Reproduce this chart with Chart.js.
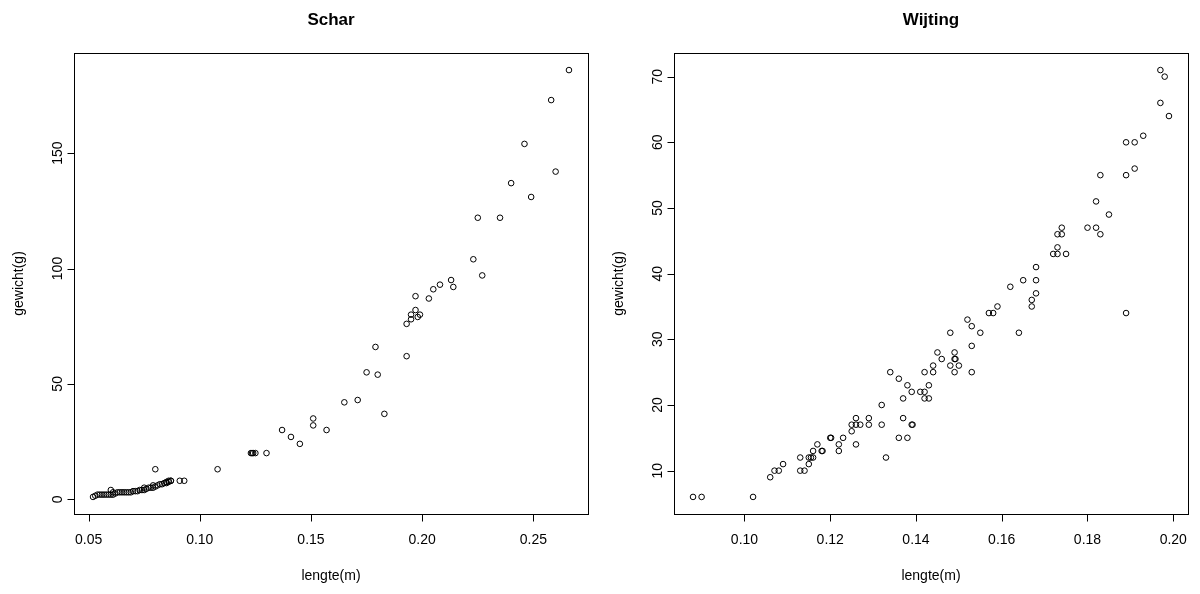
<!DOCTYPE html>
<html>
<head>
<meta charset="utf-8">
<script src="https://cdn.jsdelivr.net/npm/chart.js@4"></script>
<style>
  body { margin: 0; background: #fff; }
  .wrap { display: flex; width: 1200px; height: 594px; }
  .panel { width: 600px; height: 594px; position: relative; }
</style>
</head>
<body>
<div class="wrap">
  <div class="panel"><canvas id="schar" width="600" height="594"></canvas></div>
  <div class="panel"><canvas id="wijting" width="600" height="594"></canvas></div>
</div>
<script>
// Schar: lengte (m) en gewicht (g)
const scharLengte = [
  0.266, 0.258, 0.246, 0.260, 0.240, 0.249, 0.225, 0.235, 0.223, 0.227,
  0.213, 0.214, 0.208, 0.205, 0.197, 0.203, 0.197, 0.195, 0.199, 0.198,
  0.195, 0.193, 0.179, 0.193, 0.175, 0.180, 0.165, 0.171, 0.183, 0.151,
  0.151, 0.157, 0.137, 0.141, 0.145, 0.123, 0.1235, 0.124, 0.125, 0.130,
  0.108, 0.080, 0.091, 0.093, 0.087, 0.060,
  0.052, 0.053, 0.054, 0.055, 0.056, 0.057, 0.058, 0.059, 0.060, 0.061,
  0.061, 0.062, 0.063, 0.064, 0.065, 0.066, 0.067, 0.068, 0.069, 0.070,
  0.071, 0.072, 0.073, 0.074, 0.075, 0.075, 0.076, 0.077, 0.078, 0.079,
  0.079, 0.080, 0.081, 0.082, 0.083, 0.084, 0.085, 0.085, 0.086, 0.087, 0.086
];
const scharGewicht = [
  186, 173, 154, 142, 137, 131, 122, 122, 104, 97,
  95, 92, 93, 91, 88, 87, 82, 80, 80, 79,
  78, 76, 66, 62, 55, 54, 42, 43, 37, 35,
  32, 30, 30, 27, 24, 20, 20, 20, 20, 20,
  13, 13, 8, 8, 8, 4,
  1, 1.5, 2, 2, 2, 2, 2, 2, 2, 2,
  3, 2.5, 3, 3, 3, 3, 3, 3, 3, 3.5,
  3.5, 3.5, 4, 4, 4, 5, 4.5, 5, 5, 5,
  6, 5.5, 6, 6.5, 6.5, 7, 7, 7.5, 7.5, 8, 8
];

// Wijting: lengte (m) en gewicht (g)
const wijtingLengte = [
  0.088, 0.090, 0.102, 0.106, 0.107, 0.108, 0.109, 0.113, 0.114, 0.113,
  0.115, 0.115, 0.1155, 0.116, 0.116, 0.117, 0.118, 0.1182, 0.120, 0.1202,
  0.122, 0.122, 0.123, 0.125, 0.125, 0.126, 0.126, 0.126, 0.127, 0.129,
  0.129, 0.132, 0.132, 0.133, 0.136, 0.138, 0.137, 0.137, 0.136, 0.138,
  0.139, 0.1392, 0.139, 0.134, 0.141, 0.142, 0.142, 0.143, 0.142, 0.143,
  0.144, 0.144, 0.145, 0.146, 0.148, 0.148, 0.149, 0.149, 0.149, 0.1492,
  0.150, 0.152, 0.153, 0.153, 0.153, 0.155, 0.157, 0.158, 0.159, 0.162,
  0.164, 0.165, 0.167, 0.167, 0.168, 0.168, 0.168, 0.172, 0.173, 0.173,
  0.173, 0.174, 0.174, 0.175, 0.180, 0.182, 0.182, 0.183, 0.183, 0.185,
  0.189, 0.189, 0.189, 0.191, 0.191, 0.193, 0.197, 0.198, 0.197, 0.199
];
const wijtingGewicht = [
  6, 6, 6, 9, 10, 10, 11, 10, 10, 12,
  11, 12, 12, 12, 13, 14, 13, 13, 15, 15,
  14, 13, 15, 16, 17, 18, 17, 14, 17, 18,
  17, 20, 17, 12, 15, 15, 18, 21, 24, 23,
  17, 17, 22, 25, 22, 22, 21, 21, 25, 23,
  25, 26, 28, 27, 31, 26, 25, 28, 27, 27,
  26, 33, 32, 29, 25, 31, 34, 34, 35, 38,
  31, 39, 35, 36, 37, 39, 41, 43, 43, 44,
  46, 46, 47, 43, 47, 47, 51, 46, 55, 49,
  55, 60, 34, 60, 56, 61, 71, 70, 66, 64
];

const scharXTicks = [0.05, 0.10, 0.15, 0.20, 0.25];
const scharYTicks = [0, 50, 100, 150];
const wijtingXTicks = [0.10, 0.12, 0.14, 0.16, 0.18, 0.20];
const wijtingYTicks = [10, 20, 30, 40, 50, 60, 70];

// R-style axis range: data range plus 4% on both sides
function rRange(values) {
  const lo = Math.min(...values), hi = Math.max(...values);
  const pad = (hi - lo) * 0.04;
  return [lo - pad, hi + pad];
}

const FONT = '"Liberation Sans", Arial, Helvetica, sans-serif';

const rAxes = {
  id: 'rAxes',
  afterDraw(chart, args, opts) {
    const ctx = chart.ctx;
    const a = chart.chartArea;
    const xs = chart.scales.x, ys = chart.scales.y;
    ctx.save();
    ctx.strokeStyle = '#000';
    ctx.lineWidth = 1;
    ctx.strokeRect(Math.round(a.left) + 0.5, Math.round(a.top) + 0.5,
      Math.round(a.right - a.left), Math.round(a.bottom - a.top));

    ctx.fillStyle = '#000';
    ctx.font = '14px ' + FONT;
    ctx.textAlign = 'center';
    ctx.textBaseline = 'middle';

    // x ticks
    const yb = Math.round(a.bottom) + 0.5;
    ctx.beginPath();
    ctx.moveTo(Math.round(xs.getPixelForValue(opts.xTicks[0])) + 0.5, yb);
    ctx.lineTo(Math.round(xs.getPixelForValue(opts.xTicks[opts.xTicks.length - 1])) + 0.5, yb);
    opts.xTicks.forEach(v => {
      const px = Math.round(xs.getPixelForValue(v)) + 0.5;
      ctx.moveTo(px, yb);
      ctx.lineTo(px, yb + 7);
    });
    ctx.stroke();
    opts.xTicks.forEach(v => {
      ctx.fillText(v.toFixed(2), xs.getPixelForValue(v), a.bottom + 26);
    });

    // y ticks
    const xl = Math.round(a.left) + 0.5;
    ctx.beginPath();
    ctx.moveTo(xl, Math.round(ys.getPixelForValue(opts.yTicks[0])) + 0.5);
    ctx.lineTo(xl, Math.round(ys.getPixelForValue(opts.yTicks[opts.yTicks.length - 1])) + 0.5);
    opts.yTicks.forEach(v => {
      const py = Math.round(ys.getPixelForValue(v)) + 0.5;
      ctx.moveTo(xl, py);
      ctx.lineTo(xl - 7, py);
    });
    ctx.stroke();
    opts.yTicks.forEach(v => {
      ctx.save();
      ctx.translate(a.left - 16, ys.getPixelForValue(v));
      ctx.rotate(-Math.PI / 2);
      ctx.fillText(String(v), 0, 0);
      ctx.restore();
    });

    // axis titles
    const cx = (a.left + a.right) / 2;
    ctx.fillText('lengte(m)', cx, a.bottom + 62);
    ctx.save();
    ctx.translate(a.left - 55, (a.top + a.bottom) / 2);
    ctx.rotate(-Math.PI / 2);
    ctx.fillText('gewicht(g)', 0, 0);
    ctx.restore();

    // main title
    ctx.font = 'bold 17px ' + FONT;
    ctx.fillText(opts.title, cx, 20);
    ctx.restore();
  }
};

function makePlot(id, title, lengte, gewicht, xTicks, yTicks) {
  const [xMin, xMax] = rRange(lengte);
  const [yMin, yMax] = rRange(gewicht);
  return new Chart(document.getElementById(id), {
    type: 'scatter',
    data: {
      datasets: [{
        data: lengte.map((x, i) => ({ x: x, y: gewicht[i] })),
        pointStyle: 'circle',
        pointRadius: 2.8,
        pointBorderWidth: 1,
        borderColor: '#000',
        backgroundColor: 'rgba(0,0,0,0)'
      }]
    },
    options: {
      responsive: false,
      animation: false,
      events: [],
      layout: { padding: { left: 74, top: 53, right: 12, bottom: 80 } },
      scales: {
        x: { type: 'linear', min: xMin, max: xMax, display: false },
        y: { type: 'linear', min: yMin, max: yMax, display: false }
      },
      plugins: {
        legend: { display: false },
        tooltip: { enabled: false },
        rAxes: { title: title, xTicks: xTicks, yTicks: yTicks }
      }
    },
    plugins: [rAxes]
  });
}

makePlot('schar', 'Schar', scharLengte, scharGewicht, scharXTicks, scharYTicks);
makePlot('wijting', 'Wijting', wijtingLengte, wijtingGewicht, wijtingXTicks, wijtingYTicks);
</script>
</body>
</html>
